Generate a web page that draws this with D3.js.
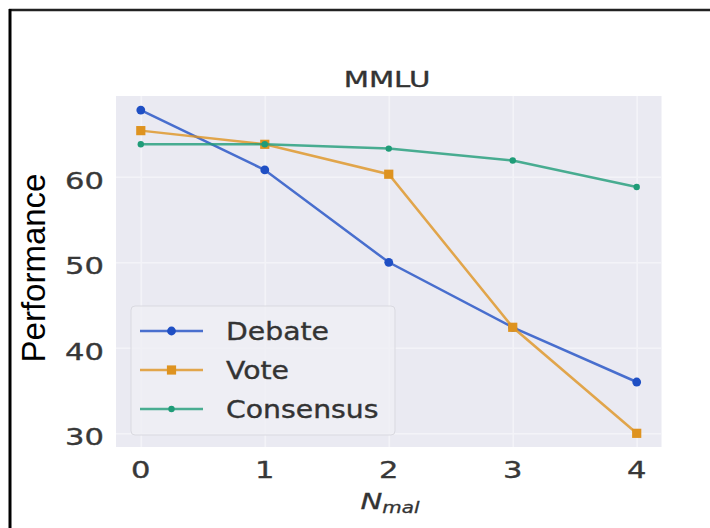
<!DOCTYPE html>
<html>
<head>
<meta charset="utf-8">
<script src="https://cdn.jsdelivr.net/npm/d3@7"></script>
<style>
  html, body { margin: 0; padding: 0; background: #fff; }
  svg { display: block; }
</style>
</head>
<body>
<svg id="chart" width="710" height="528"></svg>
<script>
const categories = [0, 1, 2, 3, 4];
const seriesNames = ["Debate", "Vote", "Consensus"];
const debate = [67.8, 60.8, 50.0, 42.4, 36.0];
const vote = [65.4, 63.8, 60.3, 42.4, 30.0];
const consensus = [63.8, 63.8, 63.3, 61.9, 58.8];
const yTicks = [30, 40, 50, 60];
const xTicks = [0, 1, 2, 3, 4];
const title = "MMLU";
const yLabel = "Performance";

const colors = { Debate: "#1f4fc4", Vote: "#de9320", Consensus: "#1f9c78" };
const seriesData = [
  { name: "Debate", values: debate, marker: "circle", r: 4.4 },
  { name: "Vote", values: vote, marker: "square", r: 4.6 },
  { name: "Consensus", values: consensus, marker: "circle", r: 3.2 }
];

const svg = d3.select("#chart");
const SX = 1.33; // horizontal stretch of the original figure

// frame lines (top and left)
svg.append("line").attr("x1", 9).attr("x2", 710).attr("y1", 10).attr("y2", 10)
  .attr("stroke", "#222").attr("stroke-width", 2.5);
svg.append("line").attr("x1", 10).attr("x2", 10).attr("y1", 9).attr("y2", 528)
  .attr("stroke", "#000").attr("stroke-width", 3);

const plot = { left: 116, right: 661.5, top: 96, bottom: 447 };
const x = d3.scaleLinear().domain([-0.2, 4.2]).range([plot.left, plot.right]);
const y = d3.scaleLinear().domain([28.4, 69.45]).range([plot.bottom, plot.top]);

// background
svg.append("rect").attr("x", plot.left).attr("y", plot.top)
  .attr("width", plot.right - plot.left).attr("height", plot.bottom - plot.top)
  .attr("fill", "#eaeaf2");

// grid via axes
const gx = svg.append("g").attr("transform", `translate(0,${plot.bottom})`)
  .call(d3.axisBottom(x).tickValues(xTicks).tickSize(-(plot.bottom - plot.top)).tickFormat(""));
gx.select(".domain").remove();
gx.selectAll("line").attr("stroke", "#f3f3f8").attr("stroke-width", 1.6);

const gy = svg.append("g").attr("transform", `translate(${plot.left},0)`)
  .call(d3.axisLeft(y).tickValues(yTicks).tickSize(-(plot.right - plot.left)).tickFormat(""));
gy.select(".domain").remove();
gy.selectAll("line").attr("stroke", "#f3f3f8").attr("stroke-width", 1.6);

function stretchedText(parent, tx, ty, str, opts) {
  const g = parent.append("g").attr("transform", `translate(${tx},${ty}) scale(${opts.sx || SX},1)`);
  const t = g.append("text").attr("x", 0).attr("y", 0)
    .attr("text-anchor", opts.anchor || "middle")
    .attr("font-family", opts.family || "DejaVu Sans")
    .attr("font-size", opts.size)
    .attr("fill", opts.fill || "#333")
    .attr("stroke", opts.fill || "#333").attr("stroke-width", 0.35)
    .text(str);
  return t;
}

// tick labels
xTicks.forEach(v => stretchedText(svg, x(v), 478, String(v), { size: 23, fill: "#383838" }));
yTicks.forEach(v => stretchedText(svg, 104, y(v) + 12, String(v), { size: 23, anchor: "end", fill: "#383838" }));

// title
stretchedText(svg, 387, 87, title, { size: 22, fill: "#333" });

// x label: N_mal
{
  const g = svg.append("g").attr("transform", `translate(390,509) scale(${SX},1)`);
  const t = g.append("text").attr("text-anchor", "middle")
    .attr("font-family", "DejaVu Sans").attr("font-style", "italic").attr("fill", "#333")
    .attr("stroke", "#333").attr("stroke-width", 0.3);
  t.append("tspan").attr("font-size", 22).text("N");
  t.append("tspan").attr("font-size", 15).attr("dy", 4).text("mal");
}

// y label
svg.append("text")
  .attr("transform", `translate(45,268) rotate(-90)`)
  .attr("text-anchor", "middle")
  .attr("font-family", "Liberation Sans, Arial, sans-serif")
  .attr("font-size", 33)
  .attr("fill", "#000")
  .text(yLabel);

// lines and markers
const line = d3.line().x((d, i) => x(categories[i])).y(d => y(d));
function drawMarker(g, cx, cy, s, color) {
  if (s.marker === "square") {
    g.append("rect").attr("x", cx - s.r).attr("y", cy - s.r)
      .attr("width", 2 * s.r).attr("height", 2 * s.r).attr("fill", color);
  } else {
    g.append("circle").attr("cx", cx).attr("cy", cy).attr("r", s.r).attr("fill", color);
  }
}
seriesData.forEach(s => {
  const c = colors[s.name];
  svg.append("path").datum(s.values).attr("d", line)
    .attr("fill", "none").attr("stroke", c).attr("stroke-width", 2.5).attr("stroke-opacity", 0.8);
  const g = svg.append("g");
  s.values.forEach((v, i) => drawMarker(g, x(categories[i]), y(v), s, c));
});

// legend
const leg = svg.append("g");
leg.append("rect").attr("x", 131).attr("y", 306).attr("width", 264).attr("height", 129)
  .attr("rx", 4).attr("fill", "#eeeef5").attr("fill-opacity", 0.85)
  .attr("stroke", "#d9d9e0").attr("stroke-width", 1);
const rowY = [331, 370, 409];
seriesData.forEach((s, i) => {
  const c = colors[s.name];
  leg.append("line").attr("x1", 140).attr("x2", 203).attr("y1", rowY[i]).attr("y2", rowY[i])
    .attr("stroke", c).attr("stroke-width", 2.5).attr("stroke-opacity", 0.8);
  drawMarker(leg, 171.5, rowY[i], s, c);
  stretchedText(leg, 226, rowY[i] + 9, s.name, { size: 24, anchor: "start", sx: 1.18, fill: "#333" });
});
</script>
</body>
</html>
